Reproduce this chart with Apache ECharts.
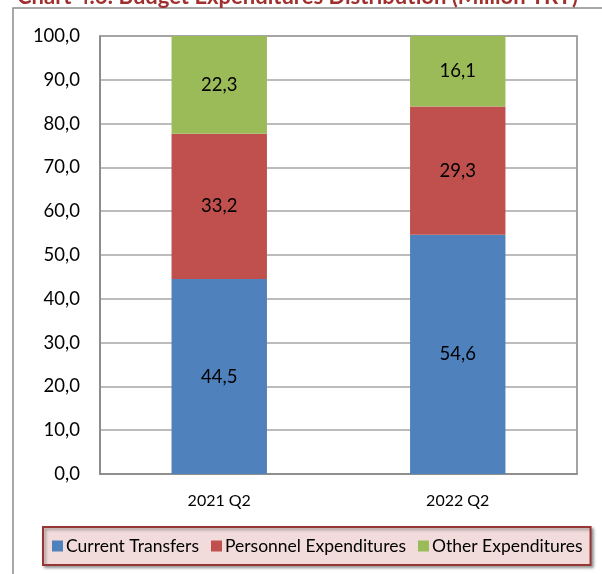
<!DOCTYPE html>
<html>
<head>
<meta charset="utf-8">
<script src="https://cdn.jsdelivr.net/npm/echarts@6/dist/echarts.min.js"></script>
<style>
  html, body { margin: 0; padding: 0; background: #fff; }
  #chart { width: 602px; height: 574px; }
</style>
</head>
<body>
<div id="chart"></div>
<script>
// periods
var categories = ["2021 Q2", "2022 Q2"];
// shares (%)
var currentTransfers = [44.5, 54.6];
var personnelExp = [33.2, 29.3];
var otherExp = [22.3, 16.1];
var seriesNames = ["Current Transfers", "Personnel Expenditures", "Other Expenditures"];
var yTicks = { min: 0, max: 100, step: 10 };

var font = "Lato";

function fmt(v) {
  return v.toFixed(1).replace(".", ",");
}

var chart = echarts.init(document.getElementById("chart"));

function barSeries(name, data, color) {
  return {
    name: name,
    type: "bar",
    stack: "total",
    barWidth: "40%",
    data: data,
    itemStyle: { color: color },
    label: {
      show: true,
      position: "inside",
      color: "#000",
      fontFamily: font,
      fontSize: 18.5,
      formatter: function (p) { return fmt(p.value); }
    }
  };
}

var option = {
  animation: false,
  backgroundColor: "#fff",
  title: {
    text: "Chart 4.6: Budget Expenditures Distribution (Million TRY)",
    left: 12,
    top: -19,
    textStyle: { color: "#a0302e", fontFamily: font, fontWeight: "bold", fontSize: 22 }
  },
  graphic: [
    {
      type: "rect",
      shape: { x: 13, y: 8, width: 620, height: 600 },
      style: { fill: null, stroke: "#8c8c8c", lineWidth: 1.5 },
      z: -1
    }
  ],
  grid: {
    left: 100,
    right: 25,
    top: 36,
    bottom: 100,
    show: true,
    borderColor: "#868686",
    borderWidth: 1.5
  },
  legend: {
    data: seriesNames,
    left: 43,
    top: 527,
    icon: "rect",
    itemWidth: 11,
    itemHeight: 11,
    itemGap: 12,
    padding: [10, 8, 10, 9],
    backgroundColor: "#f2dcdb",
    borderColor: "#953735",
    borderWidth: 2,
    shadowColor: "rgba(0,0,0,0.35)",
    shadowBlur: 3,
    shadowOffsetX: 2,
    shadowOffsetY: 2,
    textStyle: { fontFamily: font, fontSize: 17.5, color: "#000", padding: [0, 0, 0, -2] }
  },
  xAxis: {
    type: "category",
    data: categories,
    axisLine: { lineStyle: { color: "#868686", width: 1.5 } },
    axisTick: { show: false },
    axisLabel: { color: "#000", fontFamily: font, fontSize: 16, margin: 19 }
  },
  yAxis: {
    type: "value",
    min: yTicks.min,
    max: yTicks.max,
    interval: yTicks.step,
    axisLine: { show: true, lineStyle: { color: "#868686", width: 1.5 } },
    axisTick: { show: false },
    splitLine: { lineStyle: { color: "#a6a6a6", width: 1.5 } },
    axisLabel: {
      color: "#000",
      fontFamily: font,
      fontSize: 18.5,
      margin: 20,
      formatter: function (v) { return fmt(v); }
    }
  },
  series: [
    barSeries(seriesNames[0], currentTransfers, "#4f81bd"),
    barSeries(seriesNames[1], personnelExp, "#c0504d"),
    barSeries(seriesNames[2], otherExp, "#9bbb59")
  ]
};

chart.setOption(option);
</script>
</body>
</html>
